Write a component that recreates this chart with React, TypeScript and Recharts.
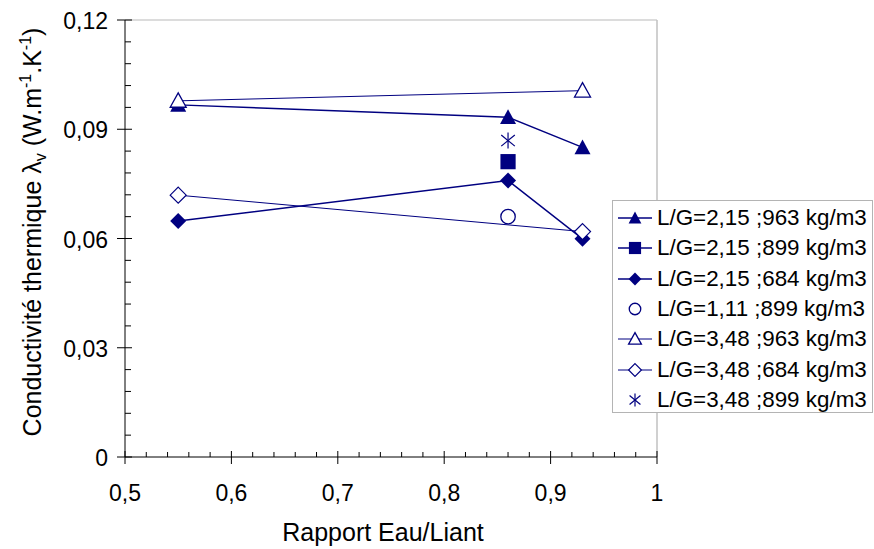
import React from 'react';
import { ScatterChart, Scatter, XAxis, YAxis, ReferenceLine } from 'recharts';

// Rapport Eau/Liant (x) for each group of measurements
const RATIO_3 = [0.55, 0.86, 0.93];
const RATIO_2 = [0.55, 0.93];
const RATIO_1 = [0.86];

// conductivité thermique (W.m-1.K-1)
const LG215_963 = [0.0967, 0.0933, 0.085];
const LG215_899 = [0.0811];
const LG215_684 = [0.0648, 0.0759, 0.0599];
const LG111_899 = [0.066];
const LG348_963 = [0.0978, 0.1006];
const LG348_684 = [0.0719, 0.0619];
const LG348_899 = [0.0869];

const X_MAJOR = [0.5, 0.6, 0.7, 0.8, 0.9, 1];
const X_TICKS = [0.5, 0.52, 0.54, 0.56, 0.58, 0.6, 0.62, 0.64, 0.66, 0.68, 0.7, 0.72, 0.74, 0.76, 0.78, 0.8, 0.82, 0.84, 0.86, 0.88, 0.9, 0.92, 0.94, 0.96, 0.98, 1];
const Y_MAJOR = [0, 0.03, 0.06, 0.09, 0.12];
const Y_TICKS = [0, 0.006, 0.012, 0.018, 0.024, 0.03, 0.036, 0.042, 0.048, 0.054, 0.06, 0.066, 0.072, 0.078, 0.084, 0.09, 0.096, 0.102, 0.108, 0.114, 0.12];

const NAVY = '#000080';
const FONT = '"Liberation Sans", Arial, sans-serif';

const zip = (xs: number[], ys: number[]) => xs.map((x, i) => ({ x, y: ys[i] }));

const SERIES = [
    { name: 'L/G=2,15 ;963 kg/m3', data: zip(RATIO_3, LG215_963), marker: 'triangle', line: true, lw: 1.4 },
    { name: 'L/G=2,15 ;899 kg/m3', data: zip(RATIO_1, LG215_899), marker: 'square', line: true, lw: 1.4 },
    { name: 'L/G=2,15 ;684 kg/m3', data: zip(RATIO_3, LG215_684), marker: 'diamond', line: true, lw: 1.4 },
    { name: 'L/G=1,11 ;899 kg/m3', data: zip(RATIO_1, LG111_899), marker: 'circle', line: false, lw: 1 },
    { name: 'L/G=3,48 ;963 kg/m3', data: zip(RATIO_2, LG348_963), marker: 'openTriangle', line: true, lw: 1 },
    { name: 'L/G=3,48 ;684 kg/m3', data: zip(RATIO_2, LG348_684), marker: 'openDiamond', line: true, lw: 1 },
    { name: 'L/G=3,48 ;899 kg/m3', data: zip(RATIO_1, LG348_899), marker: 'star', line: false, lw: 1 },
];

function Marker({ kind, cx, cy, s = 1 }: { kind: string; cx: number; cy: number; s?: number }) {
    const h = 8 * s;
    switch (kind) {
        case 'triangle':
            return <polygon points={`${cx},${cy - h} ${cx + h},${cy + 0.85 * h} ${cx - h},${cy + 0.85 * h}`} fill={NAVY} />;
        case 'openTriangle':
            return <polygon points={`${cx},${cy - h} ${cx + h},${cy + 0.8 * h} ${cx - h},${cy + 0.8 * h}`} fill="#fff" stroke={NAVY} strokeWidth={1.3} />;
        case 'square':
            return <rect x={cx - 0.95 * h} y={cy - 0.95 * h} width={1.9 * h} height={1.9 * h} fill={NAVY} />;
        case 'diamond':
            return <polygon points={`${cx},${cy - h} ${cx + h},${cy} ${cx},${cy + h} ${cx - h},${cy}`} fill={NAVY} />;
        case 'openDiamond':
            return <polygon points={`${cx},${cy - h} ${cx + h},${cy} ${cx},${cy + h} ${cx - h},${cy}`} fill="#fff" stroke={NAVY} strokeWidth={1.2} />;
        case 'circle':
            return <circle cx={cx} cy={cy} r={0.9 * h} fill="#fff" stroke={NAVY} strokeWidth={1.3} />;
        default: {
            // asterisk
            const d = h;
            const ax = 0.85 * h;
            const ay = 0.7 * h;
            return (
                <g stroke={NAVY} strokeWidth={1.2}>
                    <line x1={cx} y1={cy - d} x2={cx} y2={cy + d} />
                    <line x1={cx - ax} y1={cy - ay} x2={cx + ax} y2={cy + ay} />
                    <line x1={cx - ax} y1={cy + ay} x2={cx + ax} y2={cy - ay} />
                </g>
            );
        }
    }
}

const XTick = (props: any) => {
    const { x, y, payload } = props;
    const major = X_MAJOR.some(v => Math.abs(v - payload.value) < 1e-9);
    if (!major) return <line x1={x} x2={x} y1={y} y2={y - 5} stroke="#000" />;
    return (
        <g>
            <line x1={x} x2={x} y1={y - 6} y2={y + 7} stroke="#000" />
            <text x={x} y={y + 44} textAnchor="middle" fontSize={23} fontFamily={FONT} fill="#000">
                {String(payload.value).replace('.', ',')}
            </text>
        </g>
    );
};

const YTick = (props: any) => {
    const { x, y, payload } = props;
    const major = Y_MAJOR.some(v => Math.abs(v - payload.value) < 1e-9);
    if (!major) return <line x1={x} x2={x + 6} y1={y} y2={y} stroke="#000" />;
    return (
        <g>
            <line x1={x - 8} x2={x + 7} y1={y} y2={y} stroke="#000" />
            <text x={x - 17} y={y + 9} textAnchor="end" fontSize={23} fontFamily={FONT} fill="#000">
                {payload.value === 0 ? '0' : payload.value.toFixed(2).replace('.', ',')}
            </text>
        </g>
    );
};

const YTitle = () => (
    <text x={41} y={232} transform="rotate(-90, 41, 232)" textAnchor="middle" fontSize={25} fontFamily={FONT} fill="#000">
        Conductivité thermique λ
        <tspan dy={5} fontSize={16}>v</tspan>
        <tspan dy={-5}> (W.m</tspan>
        <tspan dy={-10} fontSize={16}>-1</tspan>
        <tspan dy={10}>.K</tspan>
        <tspan dy={-10} fontSize={16}>-1</tspan>
        <tspan dy={10}>)</tspan>
    </text>
);

const XTitle = () => (
    <text x={383} y={541} textAnchor="middle" fontSize={25} fontFamily={FONT} fill="#000">Rapport Eau/Liant</text>
);

export default function App() {
    return (
        <div style={{ position: 'absolute', left: 0, top: 0, width: 874, height: 549, background: '#fff' }}>
            <ScatterChart width={874} height={549} margin={{ top: 20, right: 217, bottom: 0, left: 0 }}>
                <ReferenceLine y={0.12} stroke="#dcdcdc" strokeWidth={2} />
                <ReferenceLine x={1} stroke="#c0c0c0" strokeWidth={1.5} />
                <XAxis type="number" dataKey="x" domain={[0.5, 1]} ticks={X_TICKS} interval={0} height={92}
                    stroke="#000" tickLine={false} tickSize={0} tickMargin={0} tick={<XTick />} allowDataOverflow
                    label={<XTitle />} />
                <YAxis type="number" dataKey="y" domain={[0, 0.12]} ticks={Y_TICKS} interval={0} width={125}
                    stroke="#000" tickLine={false} tickSize={0} tickMargin={0} tick={<YTick />} allowDataOverflow
                    label={<YTitle />} />
                {SERIES.map(s => (
                    <Scatter key={s.name} name={s.name} data={s.data} isAnimationActive={false}
                        line={s.line ? { stroke: NAVY, strokeWidth: s.lw } : false}
                        shape={(p: any) => <Marker kind={s.marker} cx={p.cx} cy={p.cy} />} />
                ))}
            </ScatterChart>

            {/* Legend */}
            <div style={{ position: 'absolute', left: 612, top: 200, width: 259, height: 211, border: '1.5px solid #b4b4b4', background: '#fff', fontFamily: FONT, fontSize: 22.4 }}>
                {SERIES.map((s, i) => (
                    <div key={s.name} style={{ position: 'absolute', left: 0, top: 2 + i * 30.3, height: 30, display: 'flex', alignItems: 'center', whiteSpace: 'nowrap' }}>
                        <svg width={44} height={30} style={{ display: 'block' }}>
                            {s.line && <line x1={5} x2={39} y1={15} y2={15} stroke={NAVY} strokeWidth={s.lw} />}
                            <Marker kind={s.marker} cx={22} cy={15} s={0.8} />
                        </svg>
                        <span>{s.name}</span>
                    </div>
                ))}
            </div>
        </div>
    );
}
